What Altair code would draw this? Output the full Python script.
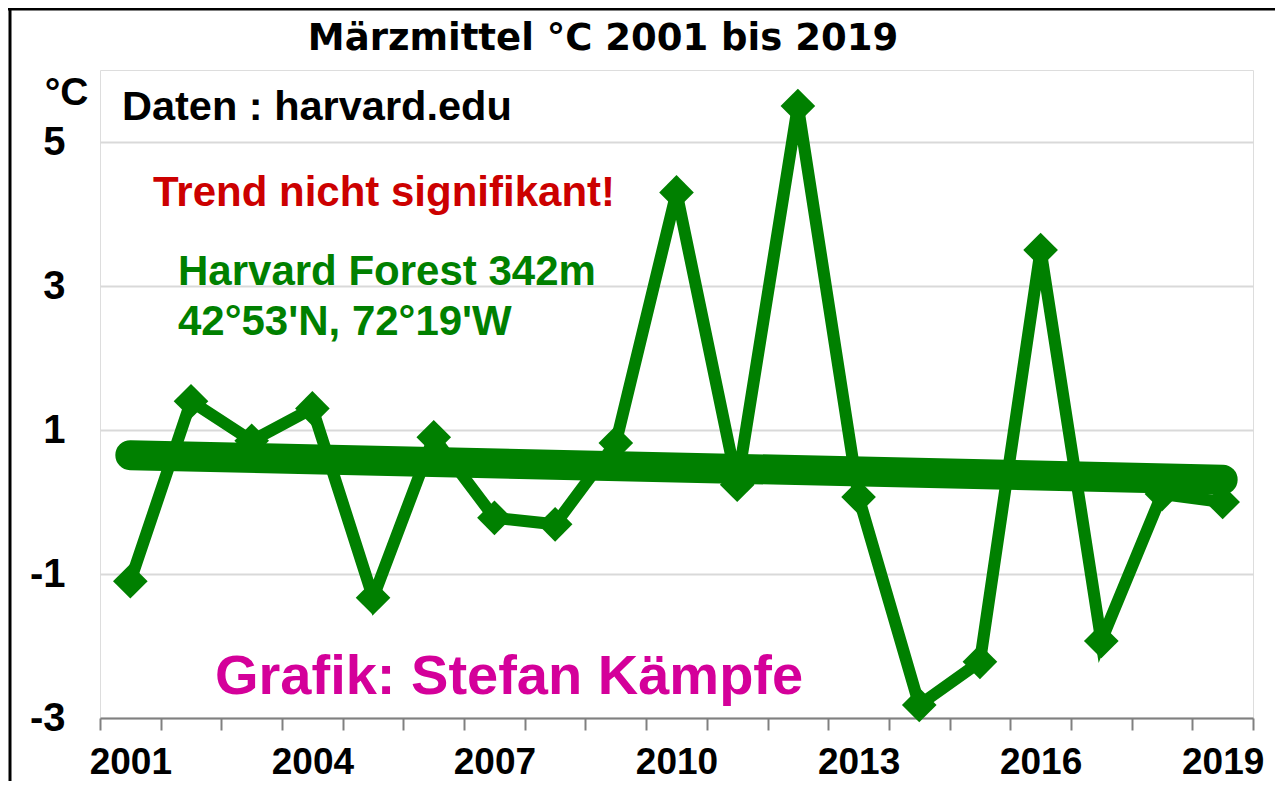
import altair as alt
import pandas as pd

# ---- data ----
years = list(range(2001, 2020))
march_mean = [-1.1, 1.4, 0.85, 1.3, -1.33, 0.9, -0.22, -0.31, 0.82, 4.3,
              0.24, 5.5, 0.07, -2.82, -2.22, 3.5, -1.93, 0.11, 0.0]
trend_years = [2001, 2019]
trend_vals = [0.65, 0.31]
y_ticks = [-3, -1, 1, 3, 5]
label_years = [2001, 2004, 2007, 2010, 2013, 2016, 2019]

GREEN = "#008000"
FONT = "Liberation Sans"

df = pd.DataFrame({"Jahr": years, "Temp": march_mean})
tdf = pd.DataFrame({"Jahr": trend_years, "Temp": trend_vals})

label_expr = "indexof([%s], datum.value) >= 0 ? datum.label : ''" % ",".join(str(y) for y in label_years)

x_scale = alt.Scale(type="band", domain=years, paddingInner=0, paddingOuter=0)
y_scale = alt.Scale(domain=[-3, 6], nice=False, zero=False)

x_axis = alt.Axis(
    title=None, tickBand="extent", labelExpr=label_expr, labelAngle=0,
    labelOverlap=False, labelFlush=False, grid=False,
    domainColor="#808080", domainWidth=2, tickColor="#808080", tickWidth=2,
    tickSize=12, labelFont=FONT, labelFontSize=37, labelFontWeight="bold",
    labelColor="black", labelPadding=14,
)
y_axis = alt.Axis(
    values=y_ticks, grid=True, gridColor="#d9d9d9", gridWidth=2, ticks=False,
    domain=False, labelFont=FONT, labelFontSize=40, labelFontWeight="bold",
    labelColor="black", labelPadding=35, labelExpr="'' + datum.value",
    title="°C", titleAngle=0, titleX=-12, titleY=34, titleAlign="right",
    titleBaseline="alphabetic", titleFont=FONT, titleFontSize=39,
    titleFontWeight="bold", titleColor="black",
)

x_enc = alt.X("Jahr:O", scale=x_scale, axis=x_axis)
y_enc = alt.Y("Temp:Q", scale=y_scale, axis=y_axis)

trend = alt.Chart(tdf).mark_line(color=GREEN, strokeWidth=30, strokeCap="round").encode(
    x=x_enc, y=y_enc)
line = alt.Chart(df).mark_line(color=GREEN, strokeWidth=12, strokeJoin="miter").encode(
    x=x_enc, y=y_enc)
points = alt.Chart(df).mark_point(shape="diamond", filled=True, size=1200,
                                  color=GREEN, opacity=1).encode(x=x_enc, y=y_enc)


def label(text, x, y, color, size, font=FONT, align="left"):
    return alt.Chart(pd.DataFrame({"t": [text]})).mark_text(
        font=font, fontSize=size, fontWeight="bold", color=color,
        align=align, baseline="alphabetic").encode(
        text="t:N", x=alt.value(x), y=alt.value(y))


texts = [
    label("Märzmittel °C 2001 bis 2019", 503, -20, "black", 37, font="DejaVu Sans", align="center"),
    label("Daten : harvard.edu", 22, 50, "black", 41.5),
    label("Trend nicht signifikant!", 53, 136, "#cc0000", 42),
    label("Harvard Forest 342m", 78, 215, GREEN, 42),
    label("42°53'N, 72°19'W", 78, 265, GREEN, 42),
    label("Grafik: Stefan Kämpfe", 115, 624, "#d4009a", 56),
]

one = pd.DataFrame({"a": [0]})
frame_left = alt.Chart(one).mark_rule(color="black", strokeWidth=3).encode(
    x=alt.value(-90), y=alt.value(-62), y2=alt.value(720))
frame_top = alt.Chart(one).mark_rule(color="black", strokeWidth=3).encode(
    x=alt.value(-92), x2=alt.value(1185), y=alt.value(-61))

chart = alt.layer(trend, line, points, *texts, frame_left, frame_top).properties(
    width=1153, height=648,
    autosize=alt.AutoSizeParams(type="none"),
    padding={"left": 92, "top": 62, "right": 22, "bottom": 63},
).configure_view(stroke="#808080", strokeWidth=2).configure(background="white")

chart.save("out.html", embed_options={"renderer": "svg", "actions": False})
